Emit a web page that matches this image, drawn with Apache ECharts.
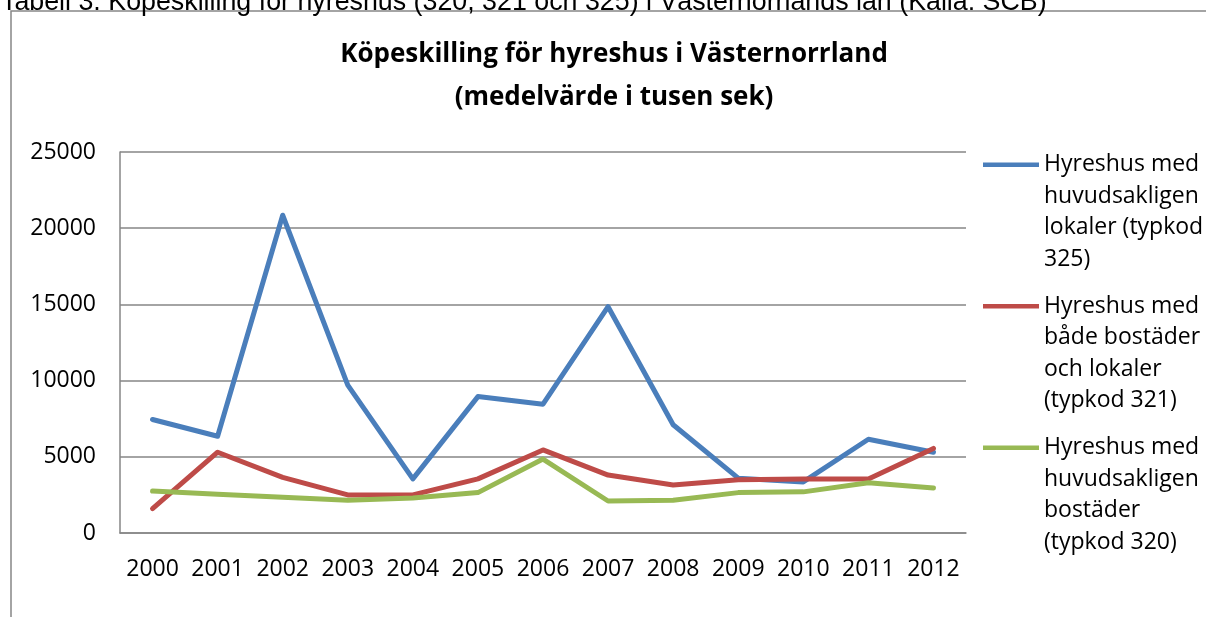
<!DOCTYPE html>
<html lang="sv">

<head>
    <meta charset="UTF-8">
    <title>Köpeskilling för hyreshus</title>
    <script src="https://cdn.jsdelivr.net/npm/echarts@6/dist/echarts.min.js"></script>
    <style>
        html, body { margin: 0; padding: 0; background: #fff; }
    </style>
</head>

<body>

    <!-- chart container -->
    <div id="main" style="width: 1206px;height: 617px;"></div>

    <script type="text/javascript">
        // years on the x axis
        var years = ['2000', '2001', '2002', '2003', '2004', '2005', '2006',
            '2007', '2008', '2009', '2010', '2011', '2012'];

        // mean price, thousands of SEK
        var lokaler325 = [7450, 6350, 20850, 9700, 3550, 8950, 8450, 14850, 7100, 3600, 3350, 6150, 5300];
        var bada321 = [1600, 5300, 3650, 2500, 2500, 3550, 5450, 3800, 3150, 3500, 3550, 3550, 5550];
        var bostader320 = [2750, 2550, 2350, 2150, 2300, 2650, 4850, 2100, 2150, 2650, 2700, 3300, 2950];

        var yTicks = [0, 5000, 10000, 15000, 20000, 25000];

        var seriesNames = [
            'Hyreshus med\nhuvudsakligen\nlokaler (typkod\n325)',
            'Hyreshus med\nbåde bostäder\noch lokaler\n(typkod 321)',
            'Hyreshus med\nhuvudsakligen\nbostäder\n(typkod 320)'
        ];
        var colors = ['#4A7EBB', '#BE4B48', '#98B954'];

        var axisGray = '#868686';
        var font = '"Open Sans", "Noto Sans", sans-serif';

        // legend icon: short bar at the top of a tall box so it sits on the first text line
        var legendIcon = 'path://M0,0 L0.01,0 L0.01,0.01 Z M0,13.5 L56,13.5 L56,18 L0,18 Z M0,126 L0.01,126 L0.01,125.99 Z';

        var myChart = echarts.init(document.getElementById('main'));

        var series = [lokaler325, bada321, bostader320].map(function (vals, i) {
            return {
                name: seriesNames[i],
                type: 'line',
                data: vals,
                showSymbol: false,
                symbol: 'none',
                color: colors[i],
                lineStyle: { width: 5, color: colors[i], cap: 'round', join: 'round' }
            };
        });

        var option = {
            animation: false,
            title: {
                text: 'Köpeskilling för hyreshus i Västernorrland\n(medelvärde i tusen sek)',
                left: 609,
                top: 28,
                textAlign: 'center',
                textStyle: {
                    fontFamily: font,
                    fontSize: 26,
                    fontWeight: 'bold',
                    color: '#000',
                    lineHeight: 43
                }
            },
            legend: {
                orient: 'vertical',
                left: 978,
                top: 144,
                itemWidth: 56,
                itemHeight: 126,
                itemGap: 15.5,
                icon: legendIcon,
                itemStyle: { borderWidth: 0 },
                textStyle: {
                    fontFamily: font,
                    fontSize: 23,
                    lineHeight: 31.5,
                    color: '#000'
                },
                data: seriesNames
            },
            grid: {
                left: 120,
                right: 240,
                top: 152,
                bottom: 84,
                containLabel: false
            },
            xAxis: {
                type: 'category',
                data: years,
                boundaryGap: true,
                axisLine: { lineStyle: { color: axisGray, width: 1.5 } },
                axisTick: { show: false },
                axisLabel: { color: '#000', fontFamily: font, fontSize: 23, margin: 25, interval: 0 }
            },
            yAxis: {
                type: 'value',
                min: yTicks[0],
                max: yTicks[yTicks.length - 1],
                interval: yTicks[1] - yTicks[0],
                axisLine: { show: true, lineStyle: { color: axisGray, width: 1.5 } },
                axisTick: { show: false },
                axisLabel: {
                    color: '#000', fontFamily: font, fontSize: 23, margin: 24,
                    formatter: function (v) { return String(v); }
                },
                splitLine: { lineStyle: { color: axisGray, width: 1.5 } }
            },
            graphic: [
                {
                    // outer chart frame, runs off the right and bottom edges
                    type: 'rect',
                    shape: { x: 11, y: 11, width: 1400, height: 800 },
                    style: { fill: 'none', stroke: '#878787', lineWidth: 1.5 },
                    silent: true,
                    z: -10
                },
                {
                    // caption above the chart, cut by the top edge
                    type: 'text',
                    left: 1,
                    top: -11,
                    style: {
                        text: 'Tabell 3. Köpeskilling för hyreshus (320, 321 och 325) i Västernorrlands län (Källa: SCB)',
                        font: '26.8px "Liberation Sans", Arial, sans-serif',
                        fill: '#000'
                    },
                    silent: true
                }
            ],
            series: series
        };

        myChart.setOption(option);
    </script>
</body>

</html>
